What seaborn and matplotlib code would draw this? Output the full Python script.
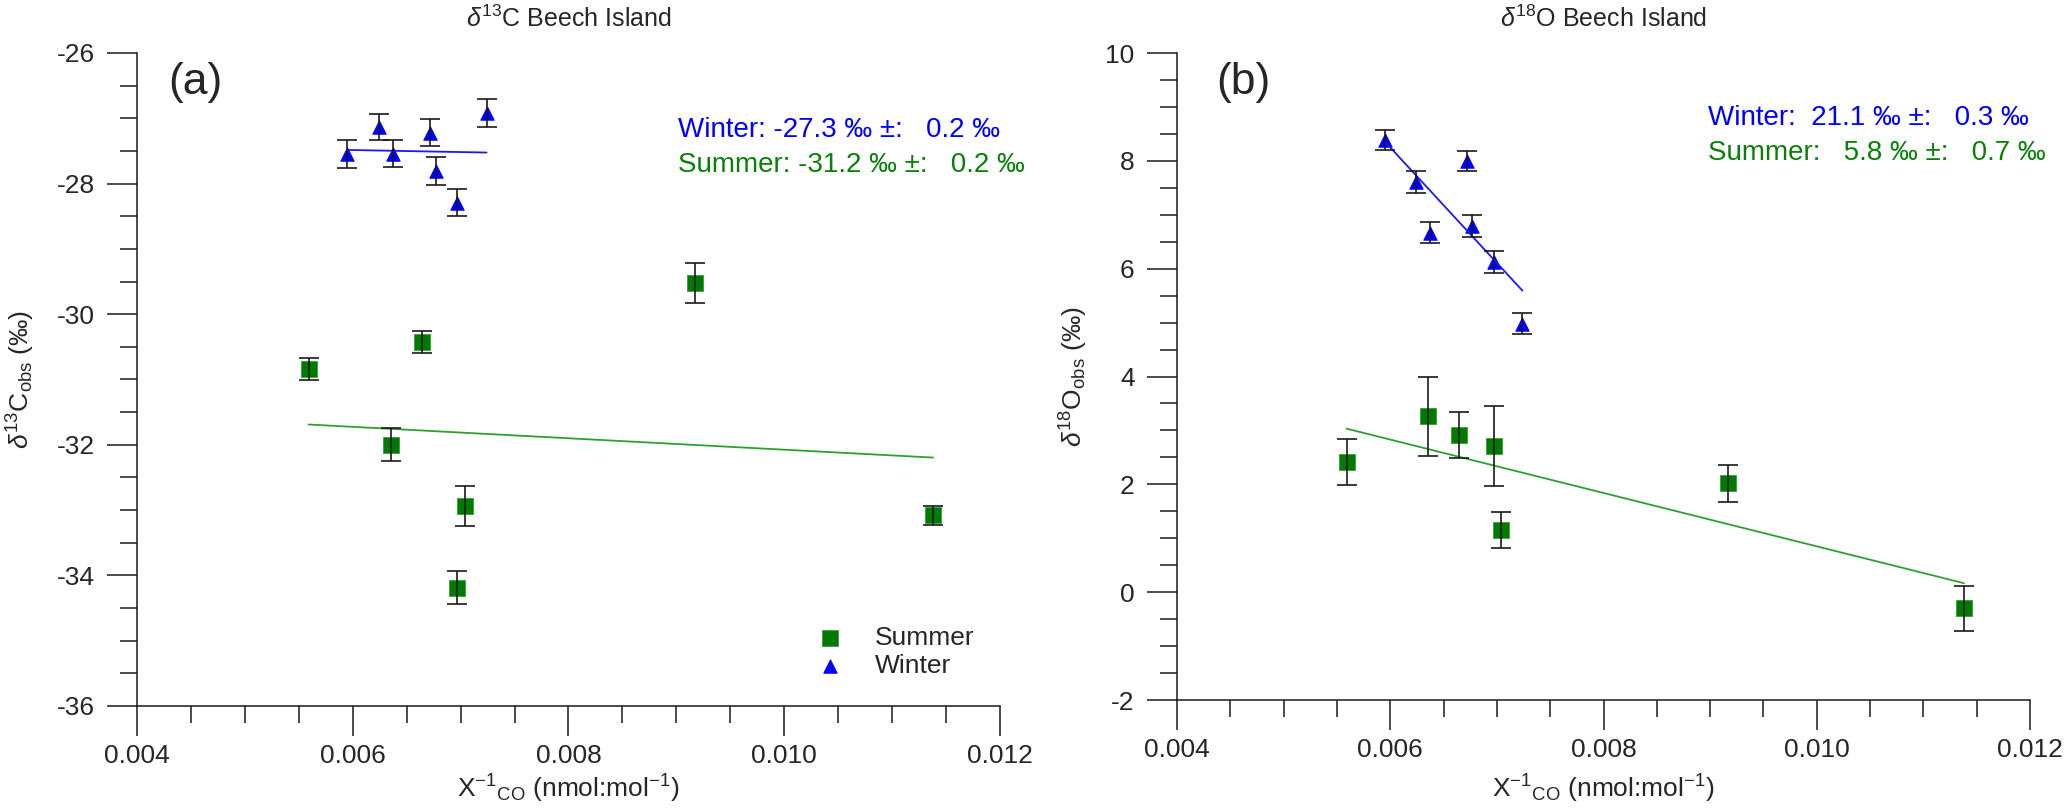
import numpy as np
import pandas as pd
import matplotlib
matplotlib.use("Agg")
import matplotlib.pyplot as plt
import seaborn as sns
from matplotlib.ticker import MultipleLocator, FormatStrFormatter

# inverse CO mixing ratio (nmol:mol-1)^-1, shared by both panels
winter_inv_co = [0.00595, 0.00624, 0.00637, 0.00672, 0.00677, 0.00697, 0.00724]
summer_inv_co = [0.00559, 0.00635, 0.00664, 0.00697, 0.00704, 0.00917, 0.01138]

# delta 13C observations
winter_d13c = [-27.55, -27.14, -27.54, -27.22, -27.81, -28.29, -26.92]
winter_d13c_err = [0.21, 0.20, 0.20, 0.21, 0.21, 0.21, 0.21]
summer_d13c = [-30.84, -32.00, -30.43, -34.19, -32.94, -29.52, -33.08]
summer_d13c_err = [0.17, 0.25, 0.17, 0.25, 0.31, 0.31, 0.15]

# delta 18O observations
winter_d18o = [8.39, 7.61, 6.67, 8.00, 6.79, 6.12, 4.98]
winter_d18o_err = [0.19, 0.20, 0.20, 0.19, 0.20, 0.20, 0.20]
summer_d18o = [2.41, 3.26, 2.91, 2.71, 1.15, 2.02, -0.30]
summer_d18o_err = [0.43, 0.73, 0.43, 0.74, 0.34, 0.34, 0.42]

# Keeling fits: intercept and slope per season
d13c_intercept = {"Winter": -27.3, "Summer": -31.2}
d13c_slope = {"Winter": -31.0, "Summer": -87.5}
d13c_int_err = {"Winter": 0.2, "Summer": 0.2}
d18o_intercept = {"Winter": 21.1, "Summer": 5.8}
d18o_slope = {"Winter": -2142.0, "Summer": -495.0}
d18o_int_err = {"Winter": 0.3, "Summer": 0.7}

df = pd.concat([
    pd.DataFrame({"season": "Summer", "inv_co": summer_inv_co,
                  "d13c": summer_d13c, "d13c_err": summer_d13c_err,
                  "d18o": summer_d18o, "d18o_err": summer_d18o_err}),
    pd.DataFrame({"season": "Winter", "inv_co": winter_inv_co,
                  "d13c": winter_d13c, "d13c_err": winter_d13c_err,
                  "d18o": winter_d18o, "d18o_err": winter_d18o_err}),
])

sns.set_style("ticks")
plt.rcParams["font.family"] = ["Liberation Sans", "DejaVu Sans"]
plt.rcParams["mathtext.fontset"] = "custom"
plt.rcParams["mathtext.rm"] = "Liberation Sans"
plt.rcParams["mathtext.it"] = "Liberation Sans:italic"
plt.rcParams["mathtext.bf"] = "Liberation Sans:bold"

FS = 19
marker_color = {"Summer": "#007a00", "Winter": "#0000ff"}
edge_color = {"Summer": "#3c9c3c", "Winter": "#0000ff"}
line_color = {"Summer": "#2ea02e", "Winter": "#1818ff"}
text_color = {"Summer": "#0a800a", "Winter": "#0000ff"}
marker = {"Summer": "s", "Winter": "^"}
msize = {"Summer": 125, "Winter": 95}

fig = plt.figure(figsize=(20.67, 8.09), dpi=100)
ax_c = fig.add_axes([0.06628, 0.12732, 0.41751, 0.80717])
ax_o = fig.add_axes([0.56943, 0.13473, 0.41268, 0.79975])


def draw_panel(ax, col, intercept, slope, ylim, ymajor):
    for season in ["Summer", "Winter"]:
        sub = df[df.season == season]
        sns.scatterplot(data=sub, x="inv_co", y=col, marker=marker[season],
                        color=marker_color[season], edgecolor=edge_color[season],
                        linewidth=0.6, s=msize[season], ax=ax, label=season,
                        zorder=2)
        ax.errorbar(sub["inv_co"], sub[col], yerr=sub[col + "_err"], fmt="none",
                    ecolor="#1a1a1a", elinewidth=1.2, capsize=7, capthick=1.2,
                    zorder=3)
        xs = np.array([sub["inv_co"].min(), sub["inv_co"].max()])
        ax.plot(xs, intercept[season] + slope[season] * xs,
                color=line_color[season], lw=1.3, zorder=2.5)

    ax.set_xlim(0.004, 0.012)
    ax.set_ylim(*ylim)
    ax.xaxis.set_major_locator(MultipleLocator(0.002))
    ax.xaxis.set_minor_locator(MultipleLocator(0.0005))
    ax.xaxis.set_major_formatter(FormatStrFormatter("%.3f"))
    ax.yaxis.set_major_locator(MultipleLocator(ymajor))
    ax.yaxis.set_minor_locator(MultipleLocator(0.5))
    ax.yaxis.set_major_formatter(FormatStrFormatter("%d"))
    ax.tick_params(which="major", length=21.5, width=1.1, color="#1a1a1a",
                   labelsize=FS, direction="out")
    ax.tick_params(axis="y", which="major", pad=9)
    ax.tick_params(axis="x", which="major", pad=6)
    ax.tick_params(which="minor", length=12, width=1.1, color="#1a1a1a",
                   direction="out")
    sns.despine(ax=ax)
    for sp in ["left", "bottom"]:
        ax.spines[sp].set_linewidth(1.1)
        ax.spines[sp].set_color("#1a1a1a")

    ax.set_xlabel(r"X$^{-1}$$_{\mathrm{CO}}$ (nmol:mol$^{-1}$)", fontsize=FS)


draw_panel(ax_c, "d13c", d13c_intercept, d13c_slope, (-36, -26), 2)
draw_panel(ax_o, "d18o", d18o_intercept, d18o_slope, (-2, 10), 2)

# titles and axis labels
ax_c.set_title(r"$\delta^{13}$C Beech Island", fontsize=FS - 1, pad=19)
ax_o.set_title(r"$\delta^{18}$O Beech Island", fontsize=FS - 1, pad=19)
ax_c.set_ylabel(r"$\delta^{13}$C$_{\mathrm{obs}}$ (‰)", fontsize=FS)
ax_o.set_ylabel(r"$\delta^{18}$O$_{\mathrm{obs}}$ (‰)", fontsize=FS)
ax_c.yaxis.set_label_coords(-0.116, 0.5)
ax_o.yaxis.set_label_coords(-0.102, 0.5)
ax_c.xaxis.set_label_coords(0.5, -0.1026)
ax_o.xaxis.set_label_coords(0.5, -0.1128)

# panel letters
ax_c.text(0.036, 0.955, "(a)", transform=ax_c.transAxes, fontsize=32,
          ha="left", va="center")
ax_o.text(0.046, 0.955, "(b)", transform=ax_o.transAxes, fontsize=32,
          ha="left", va="center")

# intercept annotations
for ax, intercept, int_err, x0, ys in [
        (ax_c, d13c_intercept, d13c_int_err, 0.627, (0.882, 0.828)),
        (ax_o, d18o_intercept, d18o_int_err, 0.622, (0.900, 0.845))]:
    for season, y in zip(["Winter", "Summer"], ys):
        label = f"{season}: {intercept[season]:5.1f} ‰ ±:   {int_err[season]:.1f} ‰"
        ax.text(x0, y, label, transform=ax.transAxes, fontsize=FS + 1,
                color=text_color[season], ha="left", va="center")

# legend only on the carbon panel
ax_o.get_legend().remove()
handles, labels = ax_c.get_legend_handles_labels()
ax_c.legend(handles[:2], labels[:2], loc="center left",
            bbox_to_anchor=(0.772, 0.0827), frameon=False, fontsize=FS,
            handlelength=1.2, handletextpad=1.1, labelspacing=0.15,
            borderaxespad=0, borderpad=0.4)

fig.savefig("out.png", dpi=100)
